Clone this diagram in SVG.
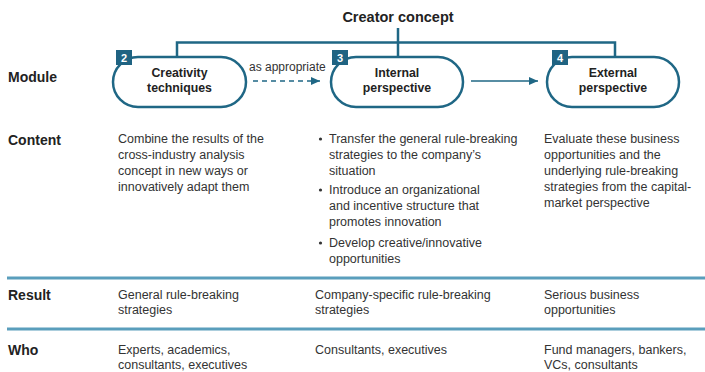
<svg xmlns="http://www.w3.org/2000/svg" width="705" height="372" viewBox="0 0 705 372">
<defs>
<marker id="ah" markerWidth="10" markerHeight="10" refX="9" refY="5" orient="auto" markerUnits="userSpaceOnUse">
<path d="M0,1 L9,5 L0,9 Z" fill="#1f6785"/>
</marker>
<style>
.box{fill:#fff;stroke:#1f6785;stroke-width:2.5}
.badge{fill:#1f6382}
.bn{font-family:"Liberation Sans",Arial,sans-serif;font-weight:bold;font-size:11px;fill:#fff;text-anchor:middle}
.bt{font-family:"Liberation Sans",Arial,sans-serif;font-weight:bold;font-size:12.3px;fill:#222;text-anchor:middle}
.lbl{font-family:"Liberation Sans",Arial,sans-serif;font-weight:bold;font-size:14px;fill:#222}
.tx{font-family:"Liberation Sans",Arial,sans-serif;font-size:12.5px;fill:#333}
.ttl{font-family:"Liberation Sans",Arial,sans-serif;font-weight:bold;font-size:14.5px;fill:#222;text-anchor:middle}
.conn{fill:none;stroke:#1f6785;stroke-width:2.5}
.arr{fill:none;stroke:#1f6785;stroke-width:1.5}
.sep{stroke:#5a9ebc;stroke-width:3}
</style>
</defs>
<rect width="705" height="372" fill="#fff"/>

<g id="title"><text class="ttl" x="398" y="22">Creator concept</text></g>

<g id="connectors">
<path class="conn" d="M177,57 V42.5 H615 V57"/>
<path class="conn" d="M398,28 V57"/>
<path class="arr" d="M253,81 H320" stroke-dasharray="5,4" marker-end="url(#ah)"/>
<path class="arr" d="M471,81 H538" marker-end="url(#ah)"/>
<text class="tx" x="249" y="71" style="font-size:12px">as appropriate</text>
</g>

<g id="node-creativity">
<rect class="box" x="113" y="57" width="133" height="50" rx="25"/>
<rect class="badge" x="116" y="50" width="16" height="15"/>
<text class="bn" x="124" y="62">2</text>
<text class="bt" x="179.5" y="77">Creativity</text>
<text class="bt" x="179.5" y="92">techniques</text>
</g>

<g id="node-internal">
<rect class="box" x="331" y="57" width="132" height="50" rx="25"/>
<rect class="badge" x="332" y="50" width="16" height="15"/>
<text class="bn" x="340" y="62">3</text>
<text class="bt" x="397" y="77">Internal</text>
<text class="bt" x="397" y="92">perspective</text>
</g>

<g id="node-external">
<rect class="box" x="547" y="57" width="132" height="50" rx="25"/>
<rect class="badge" x="552" y="50" width="16" height="15"/>
<text class="bn" x="560" y="62">4</text>
<text class="bt" x="613" y="77">External</text>
<text class="bt" x="613" y="92">perspective</text>
</g>

<g id="row-labels">
<text class="lbl" x="8" y="82">Module</text>
<text class="lbl" x="8" y="145">Content</text>
<text class="lbl" x="8" y="300">Result</text>
<text class="lbl" x="8" y="355">Who</text>
</g>

<g id="separators">
<line class="sep" x1="7" y1="278" x2="705" y2="278"/>
<line class="sep" x1="7" y1="329" x2="705" y2="329"/>
</g>

<g id="content">
<text class="tx" x="118" y="143">Combine the results of the</text>
<text class="tx" x="118" y="159">cross-industry analysis</text>
<text class="tx" x="118" y="175">concept in new ways or</text>
<text class="tx" x="118" y="191">innovatively adapt them</text>

<circle cx="320.5" cy="139" r="1.6" fill="#333"/>
<text class="tx" x="329" y="143">Transfer the general rule-breaking</text>
<text class="tx" x="329" y="159">strategies to the company’s</text>
<text class="tx" x="329" y="175">situation</text>
<circle cx="320.5" cy="190" r="1.6" fill="#333"/>
<text class="tx" x="329" y="194">Introduce an organizational</text>
<text class="tx" x="329" y="210">and incentive structure that</text>
<text class="tx" x="329" y="226">promotes innovation</text>
<circle cx="320.5" cy="243" r="1.6" fill="#333"/>
<text class="tx" x="329" y="247">Develop creative/innovative</text>
<text class="tx" x="329" y="263">opportunities</text>

<text class="tx" x="544" y="143">Evaluate these business</text>
<text class="tx" x="544" y="159">opportunities and the</text>
<text class="tx" x="544" y="175">underlying rule-breaking</text>
<text class="tx" x="544" y="191">strategies from the capital-</text>
<text class="tx" x="544" y="207">market perspective</text>
</g>

<g id="result">
<text class="tx" x="118" y="299">General rule-breaking</text>
<text class="tx" x="118" y="314">strategies</text>
<text class="tx" x="315" y="299">Company-specific rule-breaking</text>
<text class="tx" x="315" y="314">strategies</text>
<text class="tx" x="544" y="299">Serious business</text>
<text class="tx" x="544" y="314">opportunities</text>
</g>

<g id="who">
<text class="tx" x="118" y="354">Experts, academics,</text>
<text class="tx" x="118" y="369">consultants, executives</text>
<text class="tx" x="315" y="354">Consultants, executives</text>
<text class="tx" x="544" y="354">Fund managers, bankers,</text>
<text class="tx" x="544" y="369">VCs, consultants</text>
</g>
</svg>
